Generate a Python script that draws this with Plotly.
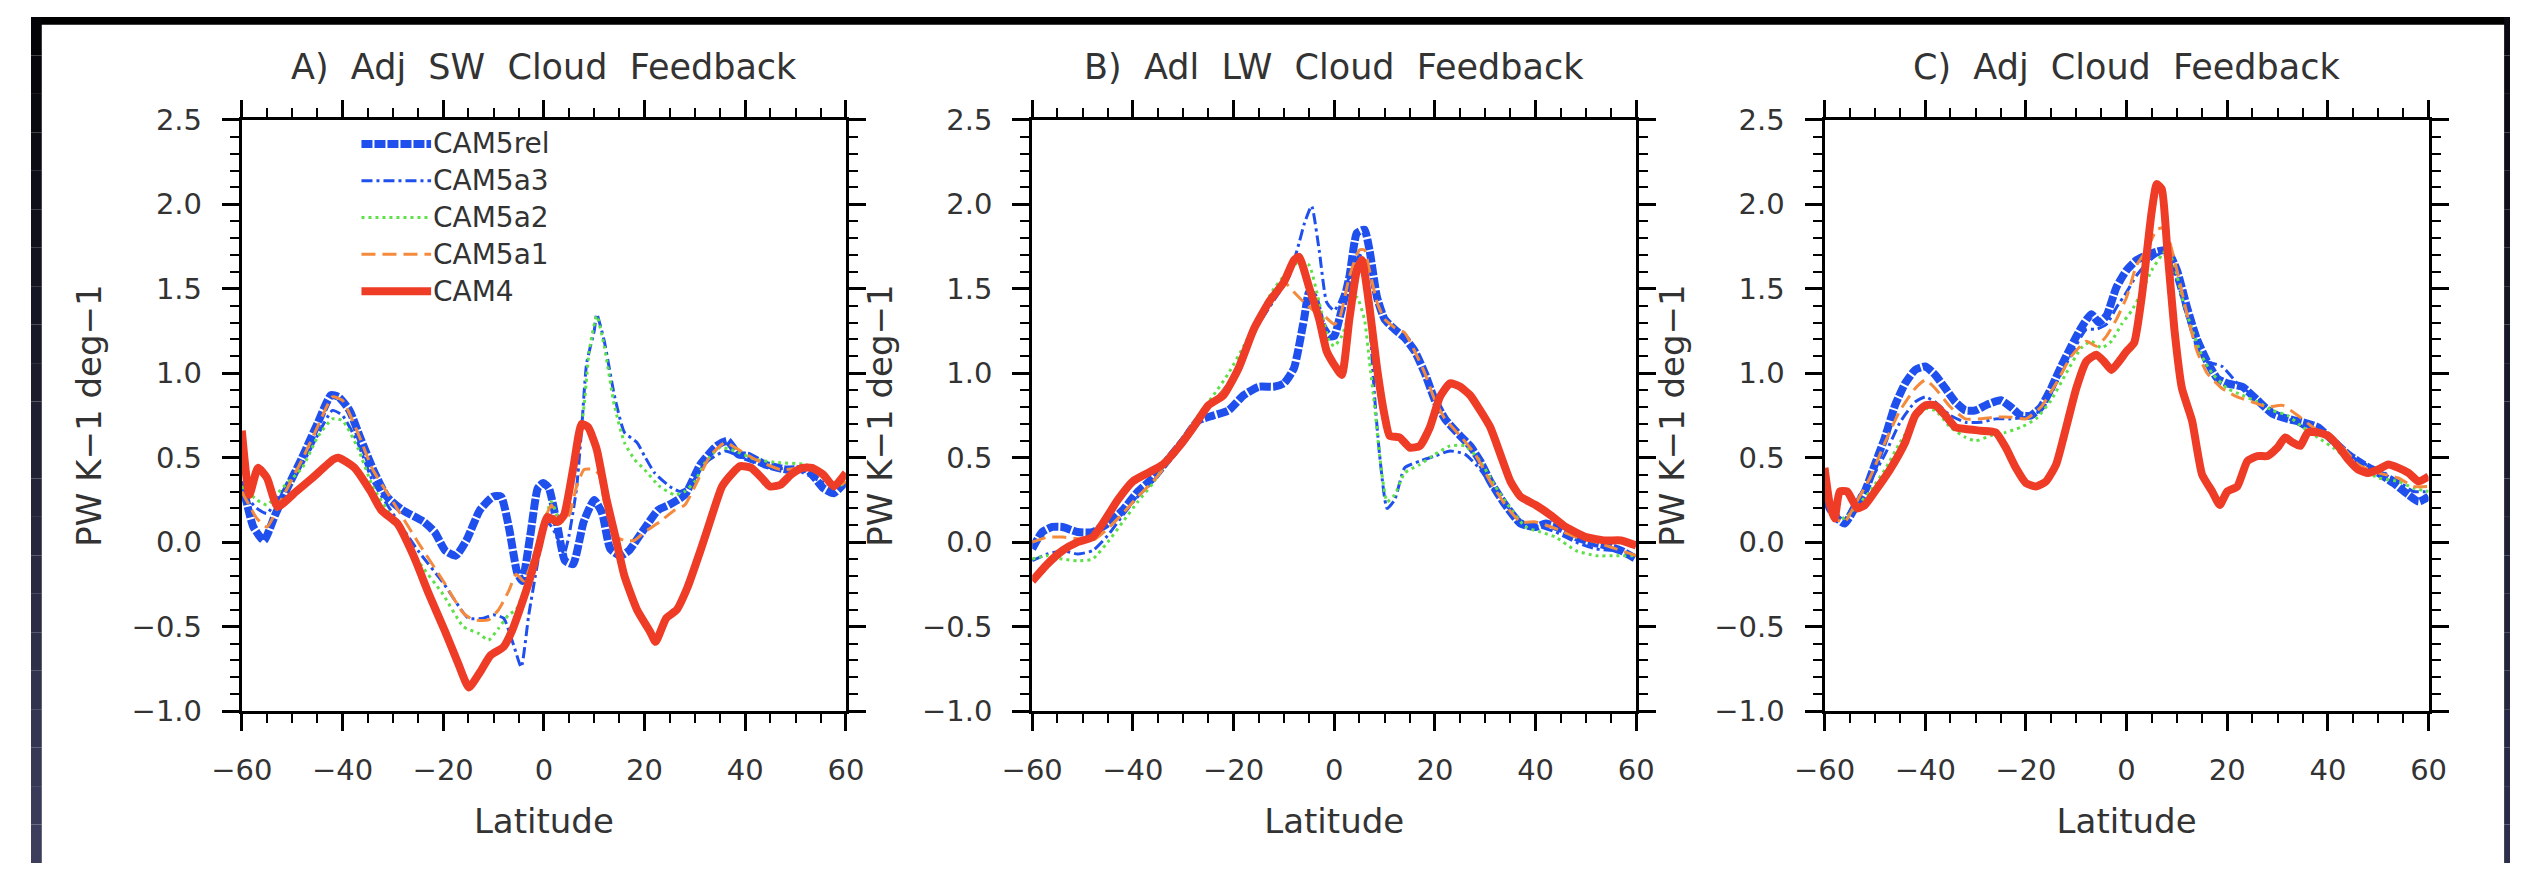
import plotly.graph_objects as go

FONT = "DejaVu Sans"
W, H = 2528, 880

MODELS = ["CAM5rel", "CAM5a3", "CAM5a2", "CAM5a1", "CAM4"]
PANEL_TITLES = ["A)  Adj  SW  Cloud  Feedback", "B)  Adl  LW  Cloud  Feedback", "C)  Adj  Cloud  Feedback"]
X_TICKS = [-60, -40, -20, 0, 20, 40, 60]
Y_TICKS = [-1.0, -0.5, 0.0, 0.5, 1.0, 1.5, 2.0, 2.5]

# ---------------- A) adjusted SW cloud feedback ----------------
sw_cam5rel_lat = [-60, -57.7, -55.6, -53.4, -51.3, -48.2, -45, -42.3, -40.8, -38.6, -36.5, -33.9, -31.2, -28.1,
                  -23.8, -21.7, -19.6, -17.5, -15.4, -12.7, -10.1, -8.5, -6.9, -5.3, -4.3, -2.7, -1.2, -0.1, 1.0,
                  2.6, 4.2, 5.8, 7.9, 10.0, 11.6, 13.2, 15.3, 16.9, 19.5, 22.7, 24.8, 28.0, 31.1, 34.3, 36.5, 38.6,
                  40.7, 43.9, 48.1, 52.3, 55.5, 57.6, 60]
sw_cam5rel = [0.36, 0.09, 0.01, 0.16, 0.30, 0.49, 0.70, 0.87, 0.86, 0.78, 0.62, 0.43, 0.27, 0.19,
              0.12, 0.06, -0.05, -0.08, 0.01, 0.19, 0.27, 0.27, 0.08, -0.18, -0.23, 0.04, 0.32, 0.35, 0.32,
              0.11, -0.11, -0.13, 0.12, 0.25, 0.17, -0.04, -0.08, -0.05, 0.06, 0.19, 0.22, 0.28, 0.46, 0.57, 0.60,
              0.52, 0.51, 0.46, 0.43, 0.43, 0.32, 0.29, 0.36]

sw_cam5a3_lat = [-60, -57, -55, -52, -48, -45, -42, -40, -37, -34, -30, -25, -20, -15, -12, -10, -8, -6, -4.5,
                 -3, -1, 0, 1, 2.5, 4, 5, 6.5, 7.5, 8.5, 10, 10.5, 12, 14, 16, 18.5, 20, 22, 25, 27, 29, 31, 33,
                 36, 38, 40, 45, 50, 55, 58, 60]
sw_cam5a3 = [0.30, 0.20, 0.17, 0.30, 0.46, 0.63, 0.78, 0.75, 0.59, 0.36, 0.17, -0.05, -0.24, -0.45, -0.45,
             -0.43, -0.45, -0.61, -0.74, -0.43, -0.08, 0.09, 0.11, 0.04, -0.07, 0.04, 0.32, 0.67, 1.06, 1.25,
             1.35, 1.19, 0.87, 0.65, 0.59, 0.51, 0.41, 0.33, 0.30, 0.33, 0.43, 0.49, 0.54, 0.52, 0.49, 0.44,
             0.43, 0.36, 0.33, 0.36]

sw_cam5a2_lat = [-60, -57, -55, -52, -48, -45, -42, -40, -37, -34, -30, -25, -20, -16, -13, -11, -9, -7, -5.5,
                 -4, -2, 0, 1.5, 3, 5, 6.5, 8, 9, 10.5, 12, 14, 16, 18, 20, 23, 26, 28, 30, 32, 35, 38, 42, 47,
                 52, 55, 58, 60]
sw_cam5a2 = [0.33, 0.25, 0.22, 0.32, 0.44, 0.62, 0.73, 0.72, 0.56, 0.33, 0.14, -0.11, -0.31, -0.50, -0.54,
             -0.58, -0.51, -0.43, -0.40, -0.29, -0.08, 0.12, 0.24, 0.14, 0.24, 0.49, 0.81, 1.13, 1.34, 1.16,
             0.81, 0.59, 0.49, 0.43, 0.33, 0.28, 0.30, 0.36, 0.47, 0.56, 0.54, 0.49, 0.47, 0.46, 0.41, 0.33,
             0.35]

sw_cam5a1_lat = [-60, -57, -55, -52, -48, -45, -42, -40, -37, -34, -30, -25, -20, -16, -14, -11, -9, -7, -5.5,
                 -4, -2, 0, 1.5, 3, 5, 6.5, 8, 10, 11, 12, 14, 16, 18, 20, 23, 26, 28, 30, 33, 36, 38, 42, 47,
                 52, 55, 58, 60]
sw_cam5a1 = [0.30, 0.14, 0.09, 0.26, 0.49, 0.68, 0.86, 0.84, 0.65, 0.43, 0.24, 0.00, -0.23, -0.42, -0.46,
             -0.46, -0.40, -0.29, -0.19, -0.23, -0.08, 0.12, 0.22, 0.11, 0.16, 0.33, 0.43, 0.43, 0.40, 0.24,
             0.04, 0.01, 0.01, 0.06, 0.12, 0.19, 0.22, 0.33, 0.51, 0.59, 0.56, 0.49, 0.43, 0.44, 0.40, 0.32,
             0.36]

sw_cam4_lat = [-60, -58.5, -56.8, -55.0, -52.9, -49.2, -46.0, -41.8, -40.8, -37.6, -34.4, -32.3, -29.1, -25.9,
               -22.8, -19.6, -17.0, -14.9, -12.7, -10.6, -8.0, -6.4, -4.8, -2.7, -1.2, 0.7, 2.7, 4.0, 5.9, 7.5,
               8.8, 10.5, 12.4, 14.3, 16.0, 18.5, 21.1, 22.2, 24.3, 26.4, 28.5, 31.1, 33.2, 35.4, 37.5, 39.0,
               41.2, 43.3, 44.9, 47.0, 49.1, 51.3, 53.3, 55.5, 57.6, 60]
sw_cam4 = [0.66, 0.28, 0.44, 0.38, 0.21, 0.30, 0.38, 0.49, 0.50, 0.44, 0.30, 0.19, 0.11, -0.08,
           -0.31, -0.53, -0.72, -0.86, -0.77, -0.67, -0.62, -0.53, -0.40, -0.21, -0.05, 0.15, 0.12, 0.16, 0.45,
           0.70, 0.68, 0.55, 0.26, 0.02, -0.20, -0.40, -0.53, -0.59, -0.45, -0.40, -0.27, -0.05, 0.14, 0.33,
           0.41, 0.45, 0.44, 0.38, 0.33, 0.34, 0.40, 0.44, 0.44, 0.40, 0.33, 0.41]

# ---------------- B) adjusted LW cloud feedback ----------------
lw_cam5rel_lat = [-60, -58, -56, -54, -51, -48, -45, -42, -39, -36, -33, -30, -27, -24, -21, -18, -15, -12,
                  -10, -8, -6, -5, -4, -2.5, -1, 0, 1, 3, 4.5, 6, 7, 8.5, 10, 12, 14, 16, 18, 20, 22, 25, 27,
                  29, 31, 34, 37, 40, 42, 45, 48, 51, 54, 57, 60]
lw_cam5rel = [-0.04, 0.06, 0.09, 0.09, 0.06, 0.06, 0.11, 0.19, 0.30, 0.38, 0.49, 0.60, 0.72, 0.75, 0.78,
              0.87, 0.92, 0.92, 0.94, 1.03, 1.32, 1.48, 1.45, 1.29, 1.22, 1.22, 1.32, 1.57, 1.83, 1.85, 1.73,
              1.45, 1.32, 1.26, 1.21, 1.13, 1.00, 0.84, 0.73, 0.63, 0.57, 0.48, 0.36, 0.22, 0.11, 0.09, 0.11,
              0.08, 0.03, 0.00, -0.02, -0.05, -0.10]

lw_cam5a3_lat = [-60, -57, -54, -51, -48, -45, -42, -39, -36, -33, -30, -27, -24, -21, -18, -15, -12, -9, -7,
                 -6, -4.5, -3, -1.5, 0, 1, 3, 5, 6, 7, 8, 9, 10.5, 12, 14, 17, 20, 23, 26, 29, 32, 35, 38, 41,
                 44, 48, 52, 56, 60]
lw_cam5a3 = [-0.11, -0.07, -0.05, -0.07, -0.05, 0.04, 0.16, 0.27, 0.36, 0.49, 0.62, 0.73, 0.83, 0.94, 1.11,
             1.29, 1.43, 1.57, 1.77, 1.88, 1.99, 1.73, 1.42, 1.37, 1.42, 1.57, 1.70, 1.67, 1.32, 0.87, 0.52,
             0.20, 0.25, 0.44, 0.48, 0.51, 0.54, 0.52, 0.43, 0.30, 0.19, 0.11, 0.09, 0.06, 0.00, -0.04, -0.05,
             -0.08]

lw_cam5a2_lat = [-60, -57, -54, -51, -48, -45, -42, -39, -36, -33, -30, -27, -24, -21, -18, -15, -12, -9, -7,
                 -5, -3, -1, 0, 1.5, 3, 4.5, 6, 7, 8, 9, 10.5, 12, 14, 17, 20, 23, 26, 29, 32, 35, 38, 41, 44,
                 48, 52, 56, 60]
lw_cam5a2 = [-0.10, -0.08, -0.10, -0.11, -0.10, 0.00, 0.12, 0.24, 0.35, 0.49, 0.62, 0.75, 0.87, 1.00, 1.16,
             1.34, 1.50, 1.61, 1.66, 1.64, 1.42, 1.19, 1.16, 1.22, 1.35, 1.45, 1.32, 1.07, 0.81, 0.52, 0.24,
             0.28, 0.41, 0.46, 0.52, 0.57, 0.57, 0.48, 0.33, 0.20, 0.09, 0.06, 0.03, -0.05, -0.08, -0.08,
             -0.08]

lw_cam5a1_lat = [-60, -57, -54, -51, -48, -45, -42, -39, -36, -33, -30, -27, -24, -21, -18, -15, -12, -10, -8,
                 -6, -4, -2, 0, 1, 3, 5, 6, 7, 8.5, 10, 12, 14, 16, 18, 20, 22, 25, 28, 31, 34, 37, 40, 44, 48,
                 52, 56, 60]
lw_cam5a1 = [0.00, 0.03, 0.03, 0.02, 0.01, 0.08, 0.17, 0.27, 0.36, 0.47, 0.60, 0.72, 0.83, 0.94, 1.11, 1.29,
             1.45, 1.54, 1.48, 1.42, 1.37, 1.34, 1.29, 1.32, 1.57, 1.73, 1.73, 1.61, 1.42, 1.32, 1.27, 1.24,
             1.13, 1.00, 0.84, 0.73, 0.63, 0.52, 0.36, 0.22, 0.12, 0.12, 0.08, 0.03, 0.00, -0.04, -0.08]

lw_cam4_lat = [-60, -57, -54, -51, -48, -46, -43, -40, -37, -34, -31, -28, -25, -22, -19, -16, -13, -10, -8,
               -7, -5, -3, -1.5, 0, 1.5, 3, 4.5, 5.5, 7, 8.5, 10, 11, 13, 15, 17, 19, 21, 23, 25, 27, 29, 31,
               33, 35, 37, 40, 43, 46, 50, 54, 57, 60]
lw_cam4 = [-0.23, -0.13, -0.05, 0.00, 0.03, 0.11, 0.25, 0.36, 0.41, 0.46, 0.56, 0.68, 0.81, 0.87, 1.03, 1.26,
           1.42, 1.54, 1.67, 1.69, 1.51, 1.32, 1.13, 1.05, 0.99, 1.32, 1.61, 1.67, 1.39, 1.03, 0.75, 0.63,
           0.62, 0.56, 0.57, 0.68, 0.86, 0.94, 0.92, 0.87, 0.78, 0.68, 0.52, 0.36, 0.27, 0.22, 0.16, 0.09,
           0.03, 0.01, 0.01, -0.02]

# ---------------- C) adjusted total cloud feedback ----------------
net_cam5rel_lat = [-60, -59, -57.5, -56, -54, -52, -50, -48, -46, -44, -42, -40, -38, -36, -34, -32, -30, -28,
                   -25, -23, -21, -19, -17, -15, -13, -11, -9, -7, -5.5, -4, -2, 0, 2, 4, 6, 8, 10, 12, 14,
                   16, 18, 20, 23, 26, 29, 32, 35, 38, 41, 44, 47, 50, 53, 56, 58, 60]
net_cam5rel = [0.32, 0.20, 0.14, 0.11, 0.20, 0.30, 0.46, 0.62, 0.81, 0.94, 1.02, 1.04, 0.99, 0.91, 0.83,
               0.78, 0.78, 0.81, 0.84, 0.80, 0.75, 0.75, 0.80, 0.91, 1.04, 1.16, 1.27, 1.35, 1.30, 1.34, 1.51,
               1.61, 1.67, 1.70, 1.72, 1.73, 1.61, 1.39, 1.20, 1.07, 0.97, 0.94, 0.92, 0.84, 0.76, 0.73, 0.71,
               0.68, 0.60, 0.52, 0.46, 0.41, 0.35, 0.28, 0.24, 0.27]

net_cam5a3_lat = [-60, -58, -56, -54, -51, -48, -45, -42, -40, -38, -35, -32, -29, -26, -23, -20, -17, -14, -11,
                  -8, -6, -4, -2, 0, 2, 4, 6, 8, 10, 12, 14, 16, 19, 22, 25, 28, 31, 34, 37, 40, 43, 46, 50,
                  54, 57, 60]
net_cam5a3 = [0.33, 0.18, 0.14, 0.24, 0.36, 0.52, 0.71, 0.83, 0.86, 0.83, 0.75, 0.71, 0.71, 0.73, 0.73, 0.74,
              0.78, 0.94, 1.11, 1.26, 1.26, 1.29, 1.39, 1.48, 1.58, 1.65, 1.70, 1.70, 1.54, 1.34, 1.15, 1.07,
              1.04, 0.94, 0.87, 0.80, 0.75, 0.70, 0.65, 0.62, 0.56, 0.48, 0.43, 0.36, 0.30, 0.30]

net_cam5a2_lat = [-60, -58, -56, -54, -51, -48, -45, -42, -40, -38, -35, -32, -30, -27, -24, -21, -18, -15, -12,
                  -9, -7, -5, -3, -1, 1, 3, 5, 7, 8, 9.5, 11, 13, 15, 17, 20, 23, 26, 29, 32, 35, 38, 41, 44,
                  47, 50, 54, 57, 60]
net_cam5a2 = [0.32, 0.18, 0.14, 0.20, 0.30, 0.43, 0.59, 0.73, 0.79, 0.78, 0.68, 0.62, 0.60, 0.63, 0.65, 0.68,
              0.73, 0.84, 1.00, 1.15, 1.19, 1.15, 1.19, 1.29, 1.37, 1.48, 1.61, 1.70, 1.73, 1.64, 1.45, 1.26,
              1.10, 1.00, 0.91, 0.87, 0.83, 0.78, 0.75, 0.68, 0.62, 0.56, 0.49, 0.43, 0.38, 0.36, 0.32, 0.30]

net_cam5a1_lat = [-60, -58, -56, -54, -51, -48, -45, -42, -40, -38, -35, -32, -29, -26, -23, -20, -17, -14, -11,
                  -8, -6, -4, -2, 0, 2, 4, 6, 7, 8, 10, 12, 14, 16, 19, 22, 25, 28, 31, 34, 37, 40, 43, 46, 50,
                  54, 57, 60]
net_cam5a1 = [0.30, 0.14, 0.12, 0.22, 0.38, 0.59, 0.78, 0.91, 0.96, 0.91, 0.80, 0.73, 0.73, 0.74, 0.74, 0.73,
              0.80, 0.94, 1.10, 1.19, 1.16, 1.22, 1.32, 1.45, 1.64, 1.73, 1.85, 1.86, 1.83, 1.61, 1.35, 1.13,
              1.00, 0.91, 0.86, 0.83, 0.80, 0.81, 0.75, 0.68, 0.62, 0.56, 0.46, 0.41, 0.38, 0.33, 0.33]

net_cam4_lat = [-60, -59, -58, -57, -55.5, -53.5, -52, -50, -47, -44, -42, -40, -38, -36, -34, -32, -29, -26,
                -24, -22, -20, -18, -16, -14, -12, -10, -8, -6, -4.5, -3, -1.5, 0, 1.5, 3, 5, 6, 7, 8, 9.5, 11,
                13, 15, 17, 18.5, 20, 22, 24, 26, 28, 30, 31.5, 33, 34.5, 36, 38, 40, 42, 44, 46, 48, 50, 52,
                54, 56, 58, 60]
net_cam4 = [0.44, 0.23, 0.14, 0.30, 0.30, 0.20, 0.22, 0.30, 0.43, 0.59, 0.75, 0.81, 0.81, 0.75, 0.68, 0.67,
            0.66, 0.65, 0.56, 0.44, 0.35, 0.33, 0.36, 0.46, 0.68, 0.91, 1.07, 1.11, 1.07, 1.02, 1.07, 1.13,
            1.18, 1.45, 1.96, 2.12, 2.09, 1.77, 1.26, 0.91, 0.72, 0.40, 0.30, 0.22, 0.30, 0.33, 0.48, 0.51,
            0.51, 0.56, 0.62, 0.59, 0.57, 0.65, 0.65, 0.63, 0.57, 0.49, 0.43, 0.41, 0.43, 0.46, 0.44, 0.41,
            0.36, 0.39]

PANELS = [
    {"CAM5rel": (sw_cam5rel_lat, sw_cam5rel), "CAM5a3": (sw_cam5a3_lat, sw_cam5a3),
     "CAM5a2": (sw_cam5a2_lat, sw_cam5a2), "CAM5a1": (sw_cam5a1_lat, sw_cam5a1), "CAM4": (sw_cam4_lat, sw_cam4)},
    {"CAM5rel": (lw_cam5rel_lat, lw_cam5rel), "CAM5a3": (lw_cam5a3_lat, lw_cam5a3),
     "CAM5a2": (lw_cam5a2_lat, lw_cam5a2), "CAM5a1": (lw_cam5a1_lat, lw_cam5a1), "CAM4": (lw_cam4_lat, lw_cam4)},
    {"CAM5rel": (net_cam5rel_lat, net_cam5rel), "CAM5a3": (net_cam5a3_lat, net_cam5a3),
     "CAM5a2": (net_cam5a2_lat, net_cam5a2), "CAM5a1": (net_cam5a1_lat, net_cam5a1),
     "CAM4": (net_cam4_lat, net_cam4)},
]

BLUE, GREEN, ORANGE, RED = "#1f50ee", "#5ee048", "#f58a3c", "#ee3c26"
STYLE = {
    "CAM5rel": dict(color=BLUE, width=8, dash="11px,2px"),
    "CAM5a3": dict(color=BLUE, width=3, dash="11px,4px,3px,4px"),
    "CAM5a2": dict(color=GREEN, width=3, dash="3px,4px"),
    "CAM5a1": dict(color=ORANGE, width=3, dash="14px,7px"),
    "CAM4": dict(color=RED, width=8, dash="solid"),
}

# frame geometry (pixels)
PANEL_X = [(215, 831), (1021, 1637), (1829, 2445)]
TOP, BOTTOM = 107, 722
TEXT = "#333333"

fig = go.Figure()

for p, series in enumerate(PANELS):
    sfx = "" if p == 0 else str(p + 1)
    for name in MODELS:
        lat, val = series[name]
        st = STYLE[name]
        fig.add_trace(go.Scatter(
            x=lat, y=val, mode="lines", name=name, showlegend=False,
            xaxis="x" + sfx, yaxis="y" + sfx,
            line=dict(color=st["color"], width=st["width"], dash=st["dash"], shape="spline", smoothing=0.5),
        ))

tick_font = dict(family=FONT, size=29, color=TEXT)
title_font = dict(family=FONT, size=34, color=TEXT)

for p, (x0, x1) in enumerate(PANEL_X):
    sfx = "" if p == 0 else str(p + 1)
    fig.layout["xaxis" + sfx] = dict(
        domain=[x0 / W, x1 / W], anchor="y" + sfx, range=[-60, 60],
        tickmode="array", tickvals=X_TICKS,
        ticks="outside", ticklen=17, tickwidth=3, tickcolor="black",
        showline=True, linewidth=3, linecolor="black", mirror="ticks",
        showgrid=False, zeroline=False,
        minor=dict(dtick=5, tick0=0, ticks="outside", ticklen=9, tickwidth=2, tickcolor="black", showgrid=False),
        tickfont=tick_font, ticklabelstandoff=14,
        title=dict(text="Latitude", font=title_font, standoff=24),
    )
    fig.layout["yaxis" + sfx] = dict(
        domain=[1 - BOTTOM / H, 1 - TOP / H], anchor="x" + sfx, range=[-1.0, 2.5],
        tickmode="array", tickvals=Y_TICKS, tickformat=".1f",
        ticks="outside", ticklen=17, tickwidth=3, tickcolor="black",
        showline=True, linewidth=3, linecolor="black", mirror="ticks",
        showgrid=False, zeroline=False,
        minor=dict(dtick=0.1, tick0=0, ticks="outside", ticklen=9, tickwidth=2, tickcolor="black", showgrid=False),
        tickfont=tick_font, ticklabelstandoff=14,
        title=dict(text="PW K\u22121 deg\u22121", font=title_font, standoff=20),
    )
    fig.add_annotation(
        text=PANEL_TITLES[p], xref="paper", yref="paper",
        x=(x0 + x1) / 2 / W, y=1 - 52 / H, xanchor="center", yanchor="middle",
        showarrow=False, font=dict(family=FONT, size=35, color=TEXT),
    )

# legend drawn inside panel A
LEG_X0, LEG_X1 = 337, 408
LEG_Y0, LEG_DY = 132, 38.3
for i, name in enumerate(MODELS):
    st = STYLE[name]
    yy = 1 - (LEG_Y0 + i * LEG_DY) / H
    fig.add_shape(type="line", xref="paper", yref="paper", x0=LEG_X0 / W, x1=LEG_X1 / W, y0=yy, y1=yy,
                  line=dict(color=st["color"], width=st["width"], dash=st["dash"]))
    fig.add_annotation(text=name, xref="paper", yref="paper", x=LEG_X1 / W, y=yy,
                       xanchor="left", yanchor="middle", showarrow=False,
                       font=dict(family=FONT, size=28, color=TEXT))

# dark screen border: black top strip, shaded side strips
fig.add_shape(type="rect", xref="paper", yref="paper", x0=0, x1=1, y0=1 - 8 / H, y1=1,
              fillcolor="black", line_width=0, layer="above")
N = 22
for k in range(N):
    f = k / (N - 1)
    r, g, b = int(4 + f * 56), int(4 + f * 58), int(8 + f * 84)
    y_top = 1 - k / N
    y_bot = 1 - (k + 1) / N
    fig.add_shape(type="rect", xref="paper", yref="paper", x0=0, x1=11 / W, y0=y_bot, y1=y_top,
                  fillcolor=f"rgb({r},{g},{b})", line_width=0, layer="above")
    r2, g2, b2 = int(10 + f * 34), int(10 + f * 36), int(18 + f * 56)
    fig.add_shape(type="rect", xref="paper", yref="paper", x0=2522 / W, x1=1, y0=y_bot, y1=y_top,
                  fillcolor=f"rgb({r2},{g2},{b2})", line_width=0, layer="above")

fig.update_layout(
    width=W, height=H, margin=dict(l=0, r=0, t=0, b=0),
    paper_bgcolor="white", plot_bgcolor="white",
    font=dict(family=FONT, color=TEXT),
)

# the page itself gets no body margin so the figure fills the window exactly
fig.write_html("out.html", post_script="document.body.style.margin='0';document.body.style.overflow='hidden';")
